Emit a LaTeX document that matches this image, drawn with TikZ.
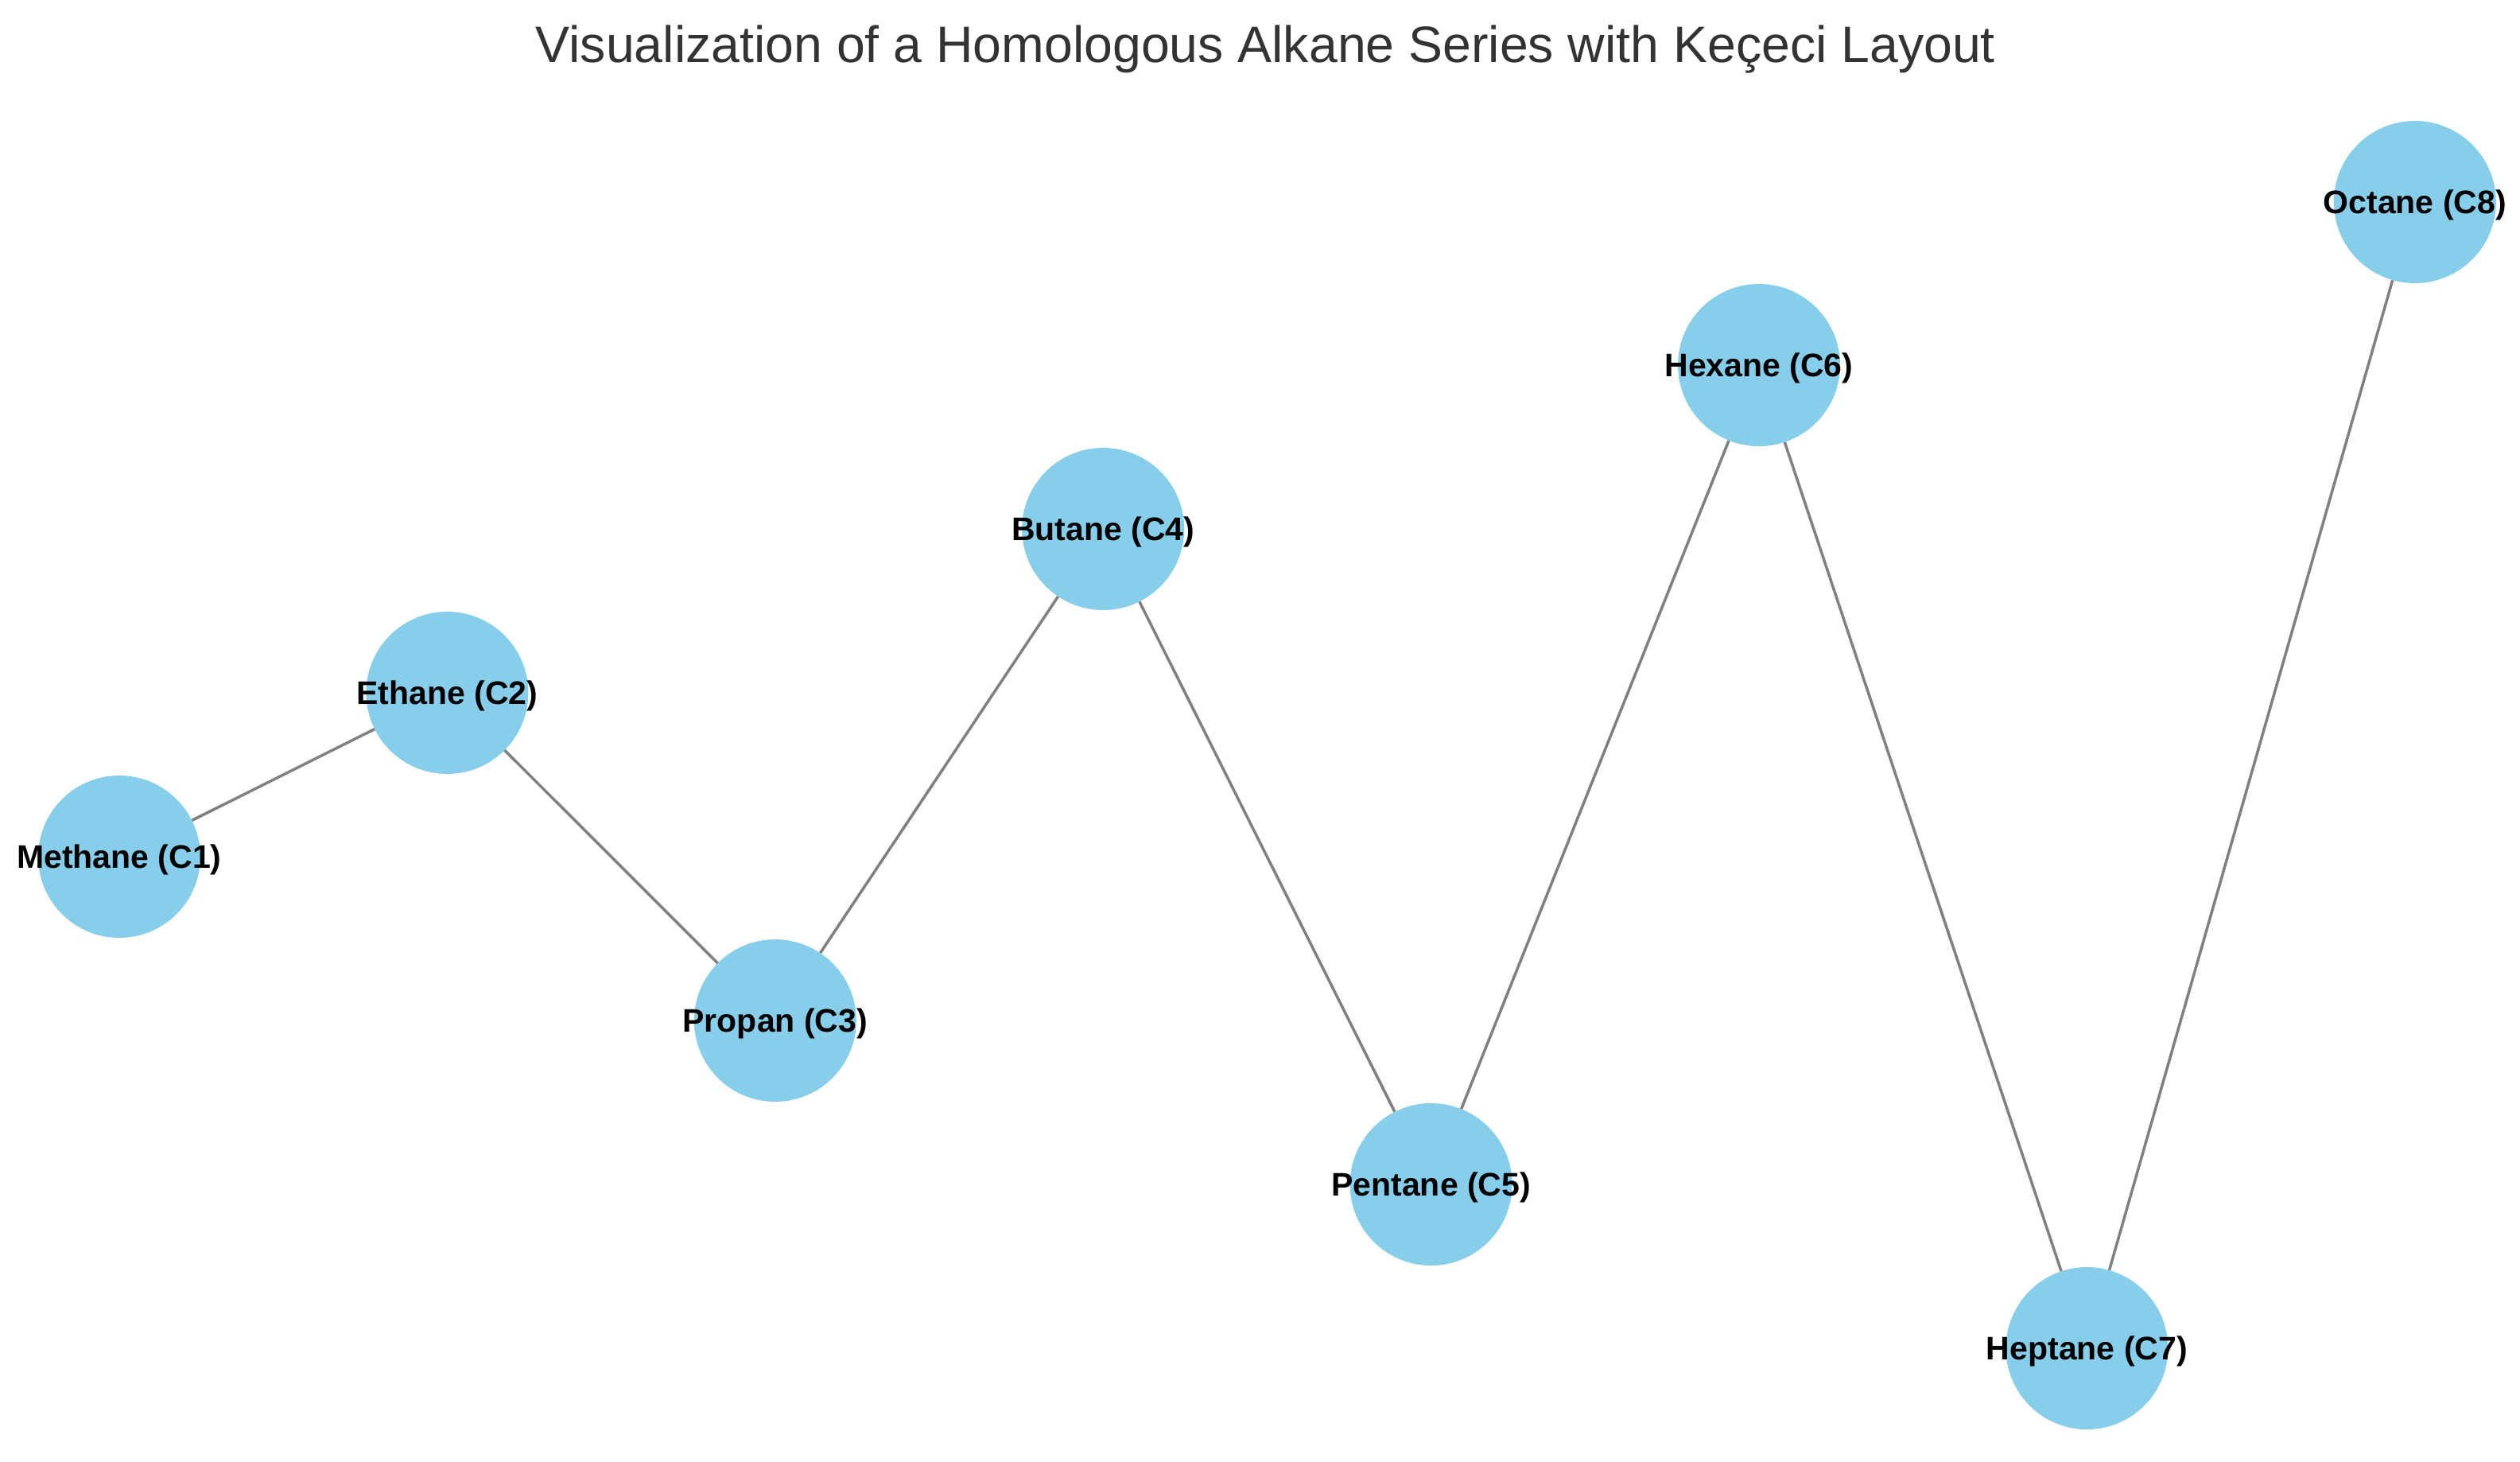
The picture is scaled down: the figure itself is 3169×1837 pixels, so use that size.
\documentclass[tikz,border=0pt]{standalone}
\usepackage{fontspec}
\setmainfont{Liberation Sans}
\definecolor{skyblue}{HTML}{87CEEB}
\definecolor{edgegray}{HTML}{808080}
\definecolor{titlegray}{HTML}{333333}
\begin{document}
\begin{tikzpicture}[x=1pt,y=-1pt,
  alkane/.style={circle,fill=skyblue,draw=none,minimum size=204pt,inner sep=0pt,
    label={[font=\fontsize{41}{49}\selectfont\bfseries,text=black,inner sep=0pt,yshift=-4pt]center:#1}},
  bond/.style={draw=edgegray,line width=3.5pt}]
\fill[white] (0,0) rectangle (3169,1837);
\useasboundingbox (0,0) rectangle (3169,1837);
\node[anchor=base,text=titlegray,font=\fontsize{64.4}{77}\selectfont,inner sep=0pt] (title) at (1591.5,78) {Visualization of a Homologous Alkane Series with Keçeci Layout};
\node[alkane={Methane (C1)}] (c1) at (150,1077) {};
\node[alkane={Ethane (C2)}] (c2) at (562.4,871) {};
\node[alkane={Propan (C3)}] (c3) at (974.8,1283) {};
\node[alkane={Butane (C4)}] (c4) at (1387.2,665) {};
\node[alkane={Pentane (C5)}] (c5) at (1799.6,1489) {};
\node[alkane={Hexane (C6)}] (c6) at (2212,459) {};
\node[alkane={Heptane (C7)}] (c7) at (2624.4,1695) {};
\node[alkane={Octane (C8)}] (c8) at (3036.8,254) {};
\draw[bond] (c1) -- (c2);
\draw[bond] (c2) -- (c3);
\draw[bond] (c3) -- (c4);
\draw[bond] (c4) -- (c5);
\draw[bond] (c5) -- (c6);
\draw[bond] (c6) -- (c7);
\draw[bond] (c7) -- (c8);
\end{tikzpicture}
\end{document}
